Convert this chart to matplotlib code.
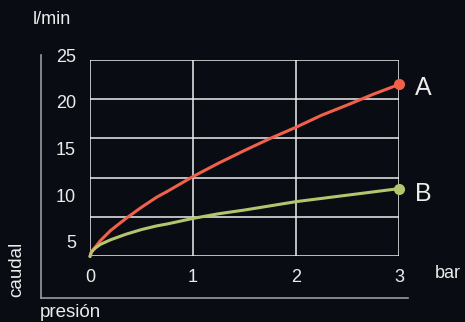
import matplotlib
matplotlib.use("Agg")
import matplotlib.pyplot as plt
from matplotlib.lines import Line2D
from matplotlib.transforms import ScaledTranslation
import numpy as np

# presión (bar) y caudal (l/min)
presion = [0, 0.01, 0.02, 0.05, 0.1, 0.2, 0.35, 0.5, 0.65, 0.75, 1, 1.25, 1.5, 1.75, 2, 2.25, 2.5, 2.75, 3]
caudal_a = [3.6, 3.95, 4.2, 4.6, 5.3, 6.4, 7.7, 8.9, 10.0, 10.6, 12.2, 13.65, 15.0, 16.3, 17.5, 18.8, 19.9, 21.05, 22.1]
caudal_b = [3.6, 4.0, 4.15, 4.5, 4.9, 5.4, 6.0, 6.5, 6.9, 7.1, 7.7, 8.2, 8.6, 9.05, 9.5, 9.85, 10.2, 10.55, 10.9]

x_ticks = [0, 1, 2, 3]
y_labels = [5, 10, 15, 20, 25]

bg = "#090c12"
fg = "#ececec"
red = "#f0604a"
green = "#b5c46e"

W, H = 465, 322
plt.rcParams['font.family'] = ['Liberation Sans', 'DejaVu Sans']

def fx(x):
	return x / W

def fy(y):
	return 1 - y / H

fig = plt.figure(figsize=(W / 100, H / 100), dpi=100, facecolor=bg)
ax = fig.add_axes([fx(90), fy(256), fx(399) - fx(90), fy(60) - fy(256)])
ax.set_facecolor(bg)

# escala: etiqueta 5 en y=243.5 px, 25 en y=57.5 px
px_per_unit = (243.5 - 57.5) / 20
y_zero = 243.5 + 5 * px_per_unit
ylo = (y_zero - 256) / px_per_unit
yhi = (y_zero - 60) / px_per_unit
ax.set_xlim(0, 3)
ax.set_ylim(ylo, yhi)

for sp in ax.spines.values():
	sp.set_visible(False)
ax.set_xticks([])
ax.set_yticks([])

# rejilla
for gx in x_ticks:
	ax.axvline(gx, color="#ededed", lw=1.1, zorder=1)
for gy in np.linspace(ylo, yhi, 6):
	ax.axhline(gy, color="#ededed", lw=1.1, zorder=1)

ax.plot(presion, caudal_a, color=red, lw=2.2, zorder=3, clip_on=False, solid_capstyle="round")
ax.plot(presion, caudal_b, color=green, lw=2.2, zorder=3, clip_on=False, solid_capstyle="round")
ax.plot(presion[-1], caudal_a[-1], "o", color=red, ms=7, zorder=4, clip_on=False)
ax.plot(presion[-1], caudal_b[-1], "o", color=green, ms=7, zorder=4, clip_on=False)

# etiquetas x, 21 px por debajo de la base
off = ScaledTranslation(0, -21 / 100, fig.dpi_scale_trans)
for t in x_ticks:
	ax.text(t, 0, str(t), transform=ax.get_xaxis_transform() + off, color=fg, fontsize=13,
		ha="center", va="center")
for lab in y_labels:
	fig.text(fx(76), fy(y_zero - lab * px_per_unit), str(lab), color=fg, fontsize=13,
		ha="right", va="center")

fig.text(fx(423), fy(88), "A", color=fg, fontsize=18, ha="center", va="center")
fig.text(fx(423), fy(194), "B", color=fg, fontsize=18, ha="center", va="center")
fig.text(fx(435), fy(273), "bar", color=fg, fontsize=13, ha="left", va="center")
fig.text(fx(33), fy(19), "l/min", color=fg, fontsize=13, ha="left", va="center")
fig.text(fx(17), fy(297), "caudal", color=fg, fontsize=13.5, rotation=90, ha="center", va="bottom")
fig.text(fx(40), fy(317), "presión", color=fg, fontsize=13.5, ha="left", va="baseline")

# ejes exteriores
fig.add_artist(Line2D([fx(41), fx(41)], [fy(55), fy(298)], color="#9a9a9a", lw=1.2))
fig.add_artist(Line2D([fx(41), fx(408)], [fy(298), fy(298)], color="#9a9a9a", lw=1.2))

fig.savefig("out.png", dpi=100, facecolor=bg)
